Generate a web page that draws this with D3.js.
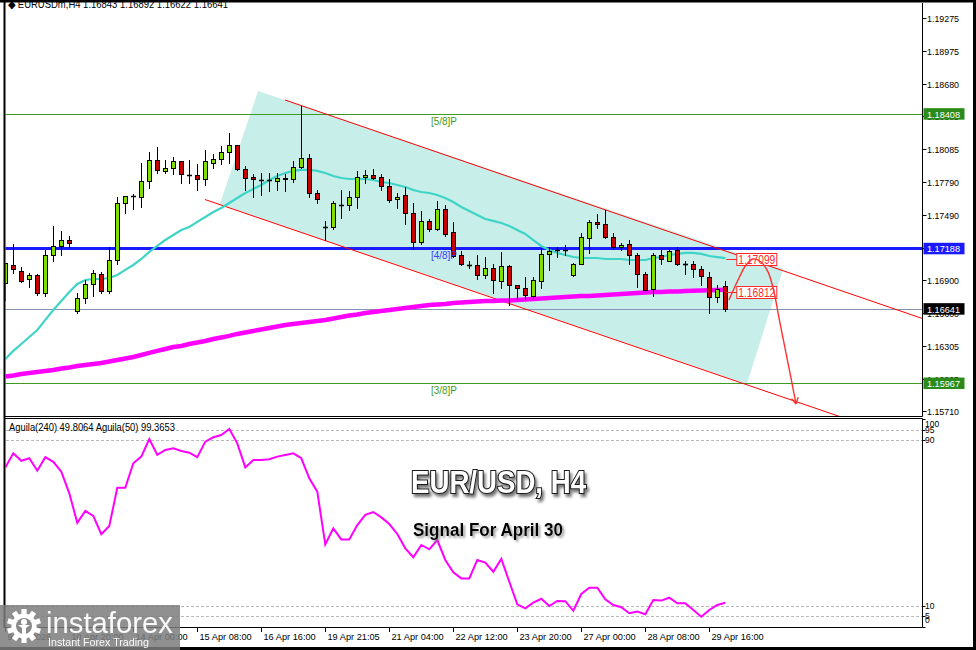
<!DOCTYPE html>
<html><head><meta charset="utf-8">
<script src="https://cdn.jsdelivr.net/npm/d3@7"></script>
<style>body{margin:0;background:#fff;overflow:hidden}svg{display:block}text{font-family:"Liberation Sans",Arial,sans-serif}</style>
</head><body><svg id="c" width="976" height="650"></svg>
<script>
// ---------------- DATA ----------------
const opens=[1.16874,1.17037,1.16985,1.16907,1.16946,1.16780,1.17125,1.17212,1.17261,1.16623,
1.16735,1.16865,1.16955,1.16804,1.17079,1.17596,1.17660,1.17656,1.17798,1.17986,
1.17891,1.17913,1.17977,1.17855,1.17850,1.17819,1.17964,1.17995,1.18058,1.18124,
1.17904,1.17832,1.17807,1.17807,1.17801,1.17819,1.17814,1.17928,1.18004,1.17687,
1.17384,1.17378,1.17584,1.17578,1.17656,1.17832,1.17852,1.17832,1.17753,1.17632,
1.17671,1.17505,1.17245,1.17436,1.17366,1.17542,1.17336,1.17125,1.17040,1.17040,
1.16944,1.17010,1.16889,1.17025,1.16853,1.16826,1.16756,1.16889,1.17134,1.17174,
1.17174,1.16949,1.17046,1.17282,1.17427,1.17406,1.17294,1.17197,1.17227,1.17125,
1.16955,1.16817,1.17125,1.17076,1.17174,1.17046,1.17046,1.16998,1.16931,1.16744,1.16843];
const highs=[1.17055,1.17227,1.17019,1.16967,1.16955,1.17173,1.17390,1.17345,1.17300,1.16780,
1.16901,1.16992,1.16976,1.17203,1.17651,1.17660,1.17678,1.17958,1.18058,1.18103,
1.17988,1.18013,1.17977,1.17988,1.17950,1.18079,1.18043,1.18115,1.18230,1.18124,
1.17934,1.17861,1.17873,1.17868,1.17868,1.17861,1.17982,1.18480,1.18040,1.17716,
1.17438,1.17620,1.17716,1.17704,1.17891,1.17898,1.17904,1.17861,1.17814,1.17687,
1.17746,1.17601,1.17529,1.17456,1.17614,1.17581,1.17427,1.17161,1.17070,1.17125,
1.17107,1.17046,1.17155,1.17040,1.16853,1.16931,1.16931,1.17188,1.17197,1.17197,
1.17218,1.17055,1.17324,1.17445,1.17499,1.17535,1.17324,1.17239,1.17263,1.17149,
1.16976,1.17143,1.17173,1.17173,1.17197,1.17076,1.17076,1.17028,1.16976,1.16856,1.16892];
const lows=[1.16720,1.16964,1.16883,1.16840,1.16765,1.16756,1.17076,1.17125,1.17203,1.16605,
1.16690,1.16756,1.16786,1.16786,1.17046,1.17511,1.17547,1.17565,1.17737,1.17868,
1.17868,1.17861,1.17777,1.17777,1.17716,1.17765,1.17918,1.17952,1.17958,1.17898,
1.17716,1.17656,1.17669,1.17710,1.17716,1.17710,1.17792,1.17913,1.17656,1.17596,
1.17263,1.17360,1.17460,1.17535,1.17550,1.17777,1.17814,1.17716,1.17610,1.17550,
1.17408,1.17179,1.17227,1.17348,1.17354,1.17300,1.17112,1.17034,1.17010,1.16913,
1.16919,1.16780,1.16826,1.16672,1.16732,1.16726,1.16735,1.16826,1.16992,1.17107,
1.17128,1.16937,1.17043,1.17146,1.17370,1.17279,1.17179,1.17173,1.17046,1.16840,
1.16810,1.16756,1.17046,1.17070,1.17034,1.16955,1.16926,1.16856,1.16605,1.16704,1.16622];
const closes=[1.17055,1.17001,1.16895,1.16946,1.16780,1.17125,1.17212,1.17261,1.17239,1.16735,
1.16865,1.16962,1.16804,1.17079,1.17596,1.17660,1.17658,1.17798,1.17986,1.17898,
1.17913,1.17977,1.17861,1.17853,1.17819,1.17977,1.17995,1.18058,1.18124,1.17907,
1.17828,1.17814,1.17805,1.17809,1.17823,1.17821,1.17928,1.18004,1.17687,1.17632,
1.17382,1.17596,1.17582,1.17656,1.17832,1.17850,1.17828,1.17753,1.17626,1.17656,
1.17505,1.17245,1.17436,1.17366,1.17542,1.17318,1.17118,1.17046,1.17038,1.16944,
1.17010,1.16901,1.17025,1.16856,1.16829,1.16762,1.16901,1.17137,1.17164,1.17172,
1.17176,1.17046,1.17288,1.17427,1.17404,1.17294,1.17197,1.17218,1.17125,1.16955,
1.16810,1.17125,1.17089,1.17164,1.17046,1.17044,1.16998,1.16937,1.16744,1.16822,1.16641];
const maFast=[1.16185,1.16258,1.16321,1.16384,1.16448,1.16539,1.16629,1.16711,1.16792,1.16865,
1.16901,1.16910,1.16910,1.16919,1.16946,1.16992,1.17037,1.17091,1.17155,1.17209,
1.17263,1.17309,1.17354,1.17381,1.17427,1.17472,1.17517,1.17553,1.17599,1.17644,
1.17689,1.17726,1.17762,1.17807,1.17843,1.17870,1.17889,1.17898,1.17898,1.17889,
1.17870,1.17843,1.17825,1.17816,1.17816,1.17816,1.17807,1.17789,1.17780,1.17762,
1.17744,1.17716,1.17698,1.17689,1.17671,1.17644,1.17608,1.17562,1.17526,1.17490,
1.17454,1.17436,1.17417,1.17390,1.17354,1.17318,1.17263,1.17209,1.17173,1.17146,
1.17127,1.17109,1.17100,1.17100,1.17100,1.17091,1.17091,1.17091,1.17082,1.17082,
1.17082,1.17100,1.17109,1.17127,1.17137,1.17146,1.17146,1.17137,1.17118,1.17108,1.17099];
const maSlow=[1.16027,1.16036,1.16049,1.16058,1.16067,1.16076,1.16085,1.16099,1.16108,1.16122,
1.16131,1.16140,1.16149,1.16162,1.16176,1.16190,1.16203,1.16221,1.16240,1.16258,
1.16276,1.16294,1.16303,1.16321,1.16335,1.16348,1.16366,1.16380,1.16394,1.16412,
1.16425,1.16439,1.16452,1.16466,1.16480,1.16493,1.16502,1.16511,1.16520,1.16529,
1.16539,1.16552,1.16566,1.16579,1.16588,1.16602,1.16611,1.16620,1.16629,1.16638,
1.16647,1.16656,1.16665,1.16674,1.16679,1.16684,1.16693,1.16697,1.16702,1.16706,
1.16711,1.16711,1.16715,1.16715,1.16720,1.16724,1.16729,1.16733,1.16738,1.16742,
1.16747,1.16751,1.16756,1.16756,1.16760,1.16765,1.16770,1.16774,1.16779,1.16783,
1.16788,1.16792,1.16792,1.16797,1.16797,1.16801,1.16804,1.16806,1.16808,1.16810,1.16812];
const aguila=[76.8,83.6,80.0,81.2,75.2,81.7,79.5,74.7,64.3,50.1,
55.8,53.4,44.6,48.6,67.0,67.0,78.8,82.0,90.5,82.8,
85.2,86.0,84.7,83.9,81.7,89.2,91.3,92.4,95.3,88.4,
76.8,80.4,80.4,80.7,82.0,82.8,83.6,81.2,71.5,65.1,
39.7,47.4,42.1,42.1,49.0,53.9,55.3,52.7,49.5,44.7,
37.8,33.5,39.4,37.3,41.8,32.2,26.2,23.3,23.3,32.2,
30.9,26.5,32.7,21.7,10.8,8.9,11.6,13.5,10.0,12.4,
12.3,7.7,15.8,18.8,18.8,13.2,10.5,9.4,6.5,7.3,
6.0,12.9,12.6,14.0,11.3,11.3,8.1,4.8,8.1,10.5,11.6];
const timeLabels=["9 Apr 2026","10 Apr 20:00","14 Apr 00:00","15 Apr 08:00","16 Apr 16:00","19 Apr 21:05","21 Apr 04:00","22 Apr 12:00","23 Apr 20:00","27 Apr 00:00","28 Apr 08:00","29 Apr 16:00"];
const timeLabelIdx=[0,8,16,24,32,40,48,56,64,72,80,88];
const priceTicks=[1.19275,1.18975,1.18680,1.18385,1.18085,1.17790,1.17490,1.17195,1.16900,1.16600,1.16305,1.16005,1.15710];
const levelPrices=[1.18408,1.17188,1.15967];
const levelNames=["[5/8]P","[4/8]P","[3/8]P"];
const lastPrice=1.16641;
const aguilaTicks=[100,95,90,10,5,0];
const aguilaLevels=[95,90,10,5];
const channelUpper=[[34.96,1.18532],[90,1.17164]];
const channelLower=[[24.96,1.17630],[90,1.16018]];
const channelFill=[[31.6,1.18613],[97.25,1.17005],[92.7,1.15959],[26.8,1.17584]];
const forecast=[[90.46,1.16720],[91.59,1.16901],[92.59,1.17037],[93.46,1.17091],[94.46,1.17064],[95.34,1.16974],[96.09,1.16792],[96.71,1.16557],[97.46,1.16285],[98.21,1.16013],[98.84,1.15777]];
const targetLabels=[1.17099,1.16812];
const headerText="\u25C6 EURUSDm,H4  1.16843 1.16892 1.16622 1.16641";
const indicatorText="Aguila(240) 49.8064  Aguila(50) 99.3653";

// ---------------- SCALES ----------------
const svg=d3.select('#c');
const x=d3.scaleLinear().domain([0,90]).range([5.3,725.3]);
const y=d3.scaleLinear().domain([1.15710,1.19275]).range([411.4,18]);
const yi=d3.scaleLinear().domain([0,100]).range([626.75,419.25]);
const AX=922.5;

const defs=svg.append('defs');
defs.append('clipPath').attr('id','mainClip').append('rect').attr('x',5.5).attr('y',3).attr('width',AX-5.5).attr('height',413);
defs.append('clipPath').attr('id','indClip').append('rect').attr('x',5.5).attr('y',419).attr('width',AX-5.5).attr('height',208);
const f1=defs.append('filter').attr('id','sh1').attr('x','-10%').attr('y','-30%').attr('width','130%').attr('height','180%');
f1.append('feDropShadow').attr('dx',2).attr('dy',3).attr('stdDeviation',1.6).attr('flood-color','#000').attr('flood-opacity',0.55);
const f2=defs.append('filter').attr('id','sh2').attr('x','-10%').attr('y','-30%').attr('width','130%').attr('height','180%');
f2.append('feDropShadow').attr('dx',2).attr('dy',2).attr('stdDeviation',1.2).attr('flood-color','#777').attr('flood-opacity',0.7);

svg.append('rect').attr('width',976).attr('height',650).attr('fill','#fff');

// ---------------- MAIN PANEL ----------------
const main=svg.append('g').attr('clip-path','url(#mainClip)');
main.append('polygon').attr('points',channelFill.map(d=>[x(d[0]),y(d[1])].join(',')).join(' ')).attr('fill','#c7eee8');

const levelColors=['#3f9a22','#1a1aff','#3f9a22'];
levelPrices.forEach((p,i)=>{
  main.append('line').attr('x1',5).attr('x2',AX).attr('y1',Math.round(y(p))+0.5).attr('y2',Math.round(y(p))+0.5)
    .attr('stroke',levelColors[i]).attr('stroke-width',i===1?3:1.2);
});
main.append('line').attr('x1',5).attr('x2',AX).attr('y1',Math.round(y(lastPrice))+0.5).attr('y2',Math.round(y(lastPrice))+0.5)
  .attr('stroke','#8594b4').attr('stroke-width',1);

function ray(pts){const [a,b]=pts;const s=(b[1]-a[1])/(b[0]-a[0]);const xe=125;return [[a[0],a[1]],[xe,a[1]+s*(xe-a[0])]];}
[channelUpper,channelLower].forEach(ch=>{
  const r=ray(ch);
  main.append('line').attr('x1',x(r[0][0])).attr('y1',y(r[0][1])).attr('x2',x(r[1][0])).attr('y2',y(r[1][1]))
   .attr('stroke','#ff0000').attr('stroke-width',1);
});

const line=d3.line().x((d,i)=>x(i)).y(d=>y(d));
main.append('path').attr('d',line(maSlow)).attr('fill','none').attr('stroke','#ff00ff').attr('stroke-width',4.5);
main.append('path').attr('d',line(maFast)).attr('fill','none').attr('stroke','#40d4c8').attr('stroke-width',2.2);

const cg=main.append('g');
opens.forEach((o,i)=>{
  const c=closes[i],h=highs[i],l=lows[i];
  const cx=Math.round(x(i));
  cg.append('line').attr('x1',cx+0.5).attr('x2',cx+0.5).attr('y1',Math.round(y(h))).attr('y2',Math.round(y(l))+1).attr('stroke','#000').attr('stroke-width',1);
  const top=Math.round(y(Math.max(o,c))),bot=Math.round(y(Math.min(o,c)));
  if(bot-top<1){
    cg.append('line').attr('x1',cx-2).attr('x2',cx+3).attr('y1',top+0.5).attr('y2',top+0.5).attr('stroke','#000').attr('stroke-width',1.6);
  }else{
    cg.append('rect').attr('x',cx-1.5).attr('y',top+0.5).attr('width',4).attr('height',bot-top)
      .attr('fill',c>=o?'#7fe000':'#c80000').attr('stroke','#000').attr('stroke-width',1);
  }
});

levelNames.forEach((n,i)=>{
  main.append('text').attr('x',431).attr('y',y(levelPrices[i])+11).text(n)
    .attr('font-size',11).attr('fill',i===1?'#3a3aff':'#3f9a22').attr('textLength',26).attr('lengthAdjust','spacingAndGlyphs');
});

// forecast annotation
const fl=d3.line().x(d=>x(d[0])).y(d=>y(d[1])).curve(d3.curveCatmullRom.alpha(0.5));
const ends=[maFast[90],maSlow[90]];
targetLabels.forEach((p,i)=>{
  const yy=Math.round(y(p))+(i===0?1.5:2.5);
  main.append('line').attr('x1',x(90)+1).attr('x2',x(90)+12).attr('y1',yy).attr('y2',yy).attr('stroke','#ff2a2a').attr('stroke-width',1);
  main.append('rect').attr('x',x(90)+11.5).attr('y',yy-6).attr('width',40).attr('height',12).attr('fill','#fff').attr('stroke','#ff2a2a').attr('stroke-width',1);
  main.append('text').attr('x',x(90)+31.5).attr('y',yy+4.5).attr('text-anchor','middle').text(p.toFixed(5))
    .attr('font-size',12).attr('fill','#ff2a2a').attr('textLength',37).attr('lengthAdjust','spacingAndGlyphs');
});
main.append('path').attr('d',fl(forecast)).attr('fill','none').attr('stroke','#ff3030').attr('stroke-width',1.4);
{
  const a=forecast[forecast.length-2],b=forecast[forecast.length-1];
  const bx=x(b[0]),by=y(b[1]),ax=x(a[0]),ay=y(a[1]);
  const ang=Math.atan2(by-ay,bx-ax),L=7;
  [-0.5,0.5].forEach(da=>{
    main.append('line').attr('x1',bx).attr('y1',by).attr('x2',bx-L*Math.cos(ang+da)).attr('y2',by-L*Math.sin(ang+da))
      .attr('stroke','#ff3030').attr('stroke-width',1.4);
  });
}

// ---------------- PRICE AXIS ----------------
const ax=svg.append('g');
priceTicks.forEach(t=>{
  const yy=Math.round(y(t))+0.5;
  ax.append('line').attr('x1',AX).attr('x2',AX+4).attr('y1',yy).attr('y2',yy).attr('stroke','#000');
  ax.append('text').attr('x',927).attr('y',yy+3.5).text(t.toFixed(5)).attr('font-size',9.5).attr('fill','#000')
    .attr('textLength',32).attr('lengthAdjust','spacingAndGlyphs');
});
const boxes=[[levelPrices[0],'#2a8a1a'],[levelPrices[1],'#1a1aff'],[lastPrice,'#000'],[levelPrices[2],'#2a8a1a']];
boxes.forEach(([p,col])=>{
  const yy=y(p);
  ax.append('rect').attr('x',923.5).attr('y',yy-5.5).attr('width',41).attr('height',11.5).attr('fill',col);
  ax.append('text').attr('x',927).attr('y',yy+4).text(p.toFixed(5)).attr('font-size',9.5).attr('fill','#fff')
    .attr('textLength',33).attr('lengthAdjust','spacingAndGlyphs');
});

// ---------------- INDICATOR PANEL ----------------
const ind=svg.append('g').attr('clip-path','url(#indClip)');
aguilaLevels.forEach(v=>{
  ind.append('line').attr('x1',6).attr('x2',AX).attr('y1',Math.round(yi(v))+0.5).attr('y2',Math.round(yi(v))+0.5)
    .attr('stroke','#b8b8b8').attr('stroke-dasharray','3,2').attr('stroke-width',1);
});
ind.append('path').attr('d',d3.line().x((d,i)=>x(i)).y(d=>yi(d))(aguila)).attr('fill','none').attr('stroke','#ff00ff').attr('stroke-width',2);
svg.append('text').attr('x',9).attr('y',430.5).text(indicatorText).attr('font-size',10).attr('fill','#000')
  .attr('textLength',166).attr('lengthAdjust','spacingAndGlyphs');
aguilaTicks.forEach(v=>{
  const yy=Math.max(424,Math.min(619.5,yi(v)));
  svg.append('line').attr('x1',AX).attr('x2',AX+3).attr('y1',Math.round(yi(v))+0.5).attr('y2',Math.round(yi(v))+0.5).attr('stroke','#000');
  svg.append('text').attr('x',925).attr('y',yy+3).text(v).attr('font-size',8.5).attr('fill','#000');
});

// Big titles
svg.append('text').attr('x',411).attr('y',493).text('EUR/USD, H4').attr('font-size',31).attr('font-weight','bold')
  .attr('fill','#fff').attr('stroke','#1a1a1a').attr('stroke-width',2.2).attr('paint-order','stroke')
  .attr('textLength',175).attr('lengthAdjust','spacingAndGlyphs').attr('filter','url(#sh1)');
svg.append('text').attr('x',413).attr('y',536).text('Signal For April 30').attr('font-size',17.5).attr('font-weight','bold')
  .attr('fill','#000').attr('textLength',150).attr('lengthAdjust','spacingAndGlyphs').attr('filter','url(#sh2)');

// ---------------- FRAMES ----------------
const fr=svg.append('g');
fr.append('line').attr('x1',AX).attr('x2',AX).attr('y1',3).attr('y2',416.5).attr('stroke','#000');
fr.append('line').attr('x1',AX).attr('x2',AX).attr('y1',418.5).attr('y2',627.5).attr('stroke','#000');
fr.append('line').attr('x1',4).attr('x2',AX).attr('y1',416.5).attr('y2',416.5).attr('stroke','#000');
fr.append('line').attr('x1',4).attr('x2',AX).attr('y1',418.5).attr('y2',418.5).attr('stroke','#000');
fr.append('line').attr('x1',4).attr('x2',AX).attr('y1',627.5).attr('y2',627.5).attr('stroke','#000');
fr.append('rect').attr('x',3.5).attr('y',0).attr('width',2).attr('height',628).attr('fill','#000');
fr.append('rect').attr('x',0).attr('y',0).attr('width',976).attr('height',2.5).attr('fill','#000');
fr.append('rect').attr('x',973).attr('y',0).attr('width',3).attr('height',650).attr('fill','#000');
fr.append('rect').attr('x',0).attr('y',647).attr('width',976).attr('height',3).attr('fill','#000');

svg.append('text').attr('x',8).attr('y',7.5).text(headerText).attr('font-size',10.5).attr('fill','#000')
  .attr('textLength',220).attr('lengthAdjust','spacingAndGlyphs');

// time axis
timeLabelIdx.forEach((k,i)=>{
  const xx=Math.round(x(k))+0.5;
  svg.append('line').attr('x1',xx).attr('x2',xx).attr('y1',627.5).attr('y2',632).attr('stroke','#000');
  svg.append('text').attr('x',xx+2).attr('y',640).text(timeLabels[i]).attr('font-size',9.5).attr('fill','#000')
    .attr('textLength',timeLabels[i].length*4.35).attr('lengthAdjust','spacingAndGlyphs');
});

// ---------------- WATERMARK ----------------
const wm=svg.append('g');
wm.append('rect').attr('x',0).attr('y',605).attr('width',180).attr('height',45).attr('fill','#7d7d7d').attr('opacity',0.85);
const gc=[24,626];
const gear=wm.append('g').attr('transform',`translate(${gc[0]},${gc[1]})`);
d3.range(10).forEach(i=>{
  gear.append('rect').attr('x',-2.6).attr('y',-17).attr('width',5.2).attr('height',6).attr('fill','#fff')
    .attr('transform',`rotate(${i*36})`);
});
gear.append('circle').attr('r',12.5).attr('fill','#fff');
gear.append('circle').attr('r',8).attr('fill','#8a8a8a');
gear.append('circle').attr('cx',0).attr('cy',-4).attr('r',3).attr('fill','#fff');
gear.append('path').attr('d','M-6,-1 L6,-1 L2,2 L2,12 L-2,12 L-2,2 Z').attr('fill','#fff');
wm.append('text').attr('x',46).attr('y',633).text('instaforex').attr('font-size',29).attr('fill','#fff').attr('opacity',0.95)
  .attr('textLength',127).attr('lengthAdjust','spacingAndGlyphs');
wm.append('text').attr('x',48).attr('y',645.5).text('Instant Forex Trading').attr('font-size',11).attr('fill','#fff').attr('opacity',0.95)
  .attr('textLength',101).attr('lengthAdjust','spacingAndGlyphs');
</script></body></html>
